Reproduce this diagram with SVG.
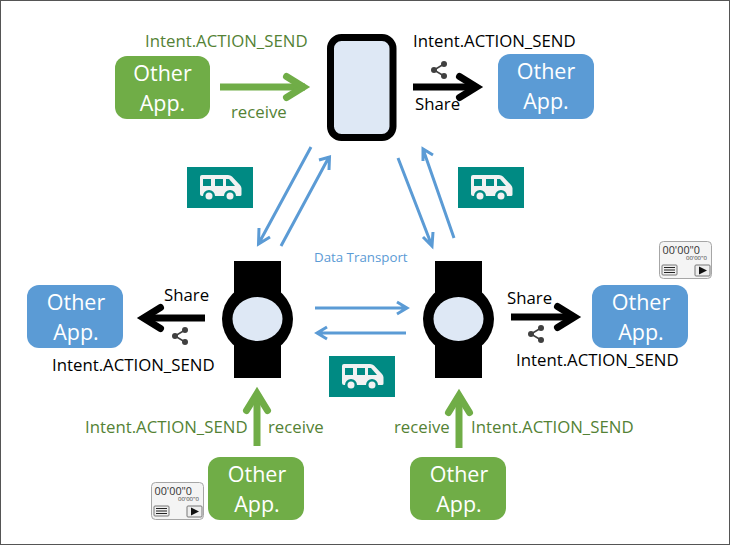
<svg xmlns="http://www.w3.org/2000/svg" xmlns:xlink="http://www.w3.org/1999/xlink" width="730" height="545" viewBox="0 0 730 545">
<style>
text{font-family:"Open Sans","Noto Sans",sans-serif;font-size:16.8px}
.k{fill:#000}.g{fill:#548235}
.app{font-size:21.5px;fill:#fff;text-anchor:middle}
.gb{fill:#70ad47}.bb{fill:#5b9bd5}
.thin{stroke:#5b9bd5;stroke-width:3;fill:none}
.tg,.tk{stroke-width:7;fill:none}
.tg{stroke:#70ad47}.tk{stroke:#000}
.head{stroke-linecap:round;stroke-linejoin:miter}
.screen{fill:#dee8f5}
</style>
<defs>
<g id="bus"><rect width="66" height="41" fill="#008a83"/>
<path d="M15 8h26q2.500 0 4 1.500l8 8.500q1.500 1.500 1.500 3.500v6q0 1.500-1.500 1.500h-4a6 6 0 0 0-12 0H28a6 6 0 0 0-12 0H15q-2 0-2-2V10q0-2 2-2z" fill="#f2f2f2"/>
<circle cx="22" cy="29" r="3.500" fill="#f2f2f2"/><circle cx="43" cy="29" r="3.500" fill="#f2f2f2"/>
<path d="M16 12h8v7h-8zM28 12h8v7h-8zM39 12h3l6 7h-9z" fill="#008a83"/></g>
<g id="share"><path d="M13 3 3 9l10 6" fill="none" stroke="#404040" stroke-width="1.600"/><circle cx="13" cy="3" r="3" fill="#404040"/><circle cx="3" cy="9" r="3" fill="#404040"/><circle cx="13" cy="15" r="3" fill="#404040"/></g>
<g id="timer"><rect x=".5" y=".5" width="52" height="37" rx="4" fill="#f4f4f4" stroke="#a6a6a6"/>
<text x="3.500" y="12.500" style="font-size:10.800px" fill="#333">00'00"0</text>
<text x="27" y="19" style="font-size:6px" fill="#333">00'00"0</text>
<rect x="3" y="24" width="15" height="10" rx="1" fill="#eee" stroke="#777"/><path d="M5 26.500h11M5 29h11M5 31.500h11" stroke="#222"/>
<rect x="36" y="24" width="15" height="11" rx="1" fill="#eee" stroke="#777"/><path d="M40 25.500l8 4-8 4z" fill="#111"/></g>
<g id="watch"><rect x="0" y="0" width="47" height="117" fill="#000"/><circle cx="23.500" cy="58" r="35.500" fill="#000"/><ellipse cx="23.500" cy="58" rx="25" ry="22" class="screen"/></g>
</defs>
<rect x="0.500" y="0.500" width="729" height="544" fill="#fff" stroke="#555"/>
<g id="connectors">
<path class="tg" d="M220 87H305"/><path class="tg head" d="M286.500 76.500 303.500 87 286.500 97.500"/>
<path class="tk" d="M413 87H477"/><path class="tk head" d="M459.500 76.500 476.500 87 459.500 97.500"/>
<path class="tk" d="M205 318H143"/><path class="tk head" d="M160.500 307.500 143.500 318 160.500 328.500"/>
<path class="tk" d="M511 317H575"/><path class="tk head" d="M557.500 306.500 574.500 317 557.500 327.500"/>
<path class="tg" d="M257 446V394"/><path class="tg head" d="M246.500 410.500 257 393.500 267.500 410.500"/>
<path class="tg" d="M459 448V396"/><path class="tg head" d="M448.500 412.500 459 395.500 469.500 412.500"/>
<path class="thin" d="M311 147 259 243M259 228 258.500 244 270 237"/>
<path class="thin" d="M281 246 329 157M319 160 329.500 157 329 170"/>
<path class="thin" d="M398 158 432 246M423 237 432 246 433 232"/>
<path class="thin" d="M454 238 423 149M423 161 423 149 433 155"/>
<path class="thin" d="M315 308H406M397 302 407 308 397 314"/>
<path class="thin" d="M406 333H318M327 327 317 333 327 339"/>
</g>
<g id="app-top-left"><rect x="115" y="56" width="95" height="63" rx="12" class="gb"/><text class="app" x="162.500" y="81">Other</text><text class="app" x="162.500" y="111">App.</text></g>
<g id="app-top-right"><rect x="498" y="54" width="96" height="65" rx="12" class="bb"/><text class="app" x="546" y="79">Other</text><text class="app" x="546" y="109">App.</text></g>
<g id="app-left"><rect x="27" y="285" width="96" height="63" rx="12" class="bb"/><text class="app" x="76" y="310">Other</text><text class="app" x="76" y="340">App.</text></g>
<g id="app-right"><rect x="592" y="285" width="96" height="63" rx="12" class="bb"/><text class="app" x="641" y="310">Other</text><text class="app" x="641" y="340">App.</text></g>
<g id="app-bottom-left"><rect x="208" y="457" width="96" height="63" rx="12" class="gb"/><text class="app" x="257" y="482">Other</text><text class="app" x="257" y="512">App.</text></g>
<g id="app-bottom-right"><rect x="410" y="457" width="96" height="63" rx="12" class="gb"/><text class="app" x="459" y="482">Other</text><text class="app" x="459" y="512">App.</text></g>
<g id="phone"><rect x="330.500" y="37.500" width="62.500" height="100" rx="11" class="screen" stroke="#000" stroke-width="7"/></g>
<g id="watch-left"><use xlink:href="#watch" x="234" y="261"/></g>
<g id="watch-right"><use xlink:href="#watch" x="435" y="261"/></g>
<g id="bus-1"><use xlink:href="#bus" x="187" y="167"/></g>
<g id="bus-2"><use xlink:href="#bus" x="458" y="167"/></g>
<g id="bus-3"><use xlink:href="#bus" x="329" y="356"/></g>
<g id="icons">
<use xlink:href="#share" x="431" y="61"/>
<use xlink:href="#share" x="172" y="327"/>
<use xlink:href="#share" x="528" y="325"/>
<use xlink:href="#timer" x="659" y="241"/>
<use xlink:href="#timer" x="151" y="482"/>
</g>
<g id="labels">
<text class="g" x="145" y="47">Intent.ACTION_SEND</text>
<text class="g" x="231" y="118">receive</text>
<text class="k" x="413" y="47">Intent.ACTION_SEND</text>
<text class="k" x="415" y="110">Share</text>
<text class="k" x="164" y="301">Share</text>
<text class="k" x="52" y="371">Intent.ACTION_SEND</text>
<text class="k" x="507" y="304">Share</text>
<text class="k" x="516" y="366">Intent.ACTION_SEND</text>
<text class="g" x="85" y="433">Intent.ACTION_SEND</text>
<text class="g" x="268" y="433">receive</text>
<text class="g" x="394" y="433">receive</text>
<text class="g" x="471" y="433">Intent.ACTION_SEND</text>
<text x="314" y="262" style="font-size:13.300px" fill="#5b9bd5">Data Transport</text>
</g>
</svg>
